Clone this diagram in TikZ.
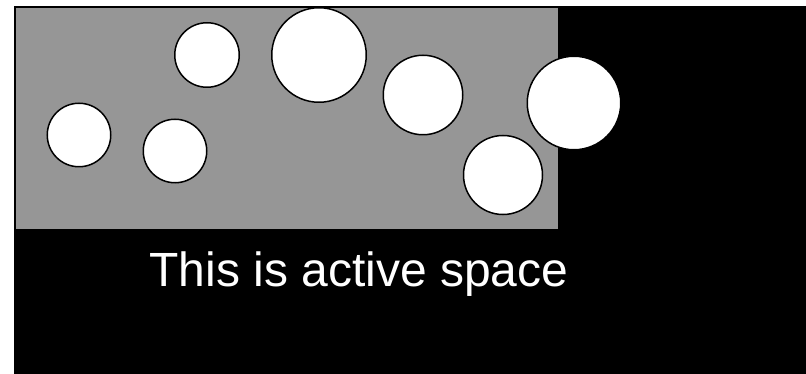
\documentclass[tikz,border=0pt]{standalone}
\usepackage{fontspec}
\setmainfont{Liberation Sans}
\definecolor{spacegray}{HTML}{969696}
\tikzset{ball/.style={circle,draw=black,fill=white,line width=1.5pt,inner sep=0pt}}

\begin{document}
\begin{tikzpicture}[x=1pt,y=-1pt]
\useasboundingbox (0,0) rectangle (806,374);
\fill[white] (0,0) rectangle (806,374);
\fill[black] (14,6) rectangle (806,374);
\fill[spacegray] (16,8) rectangle (558,229);
\node[ball,minimum size=63.5pt] (b1) at (79,135) {};
\node[ball,minimum size=63.5pt] (b2) at (175,151) {};
\node[ball,minimum size=64.5pt] (b3) at (207,55) {};
\node[ball,minimum size=94.5pt] (b4) at (319,55) {};
\node[ball,minimum size=79.5pt] (b5) at (423,95) {};
\node[ball,minimum size=79pt] (b6) at (503,175) {};
\node[ball,minimum size=93.5pt] (b7) at (574,103) {};
\node[anchor=base,text=white,inner sep=0pt,font=\fontsize{48}{56}\selectfont] (label) at (359,287) {This is active space};
\end{tikzpicture}
\end{document}
